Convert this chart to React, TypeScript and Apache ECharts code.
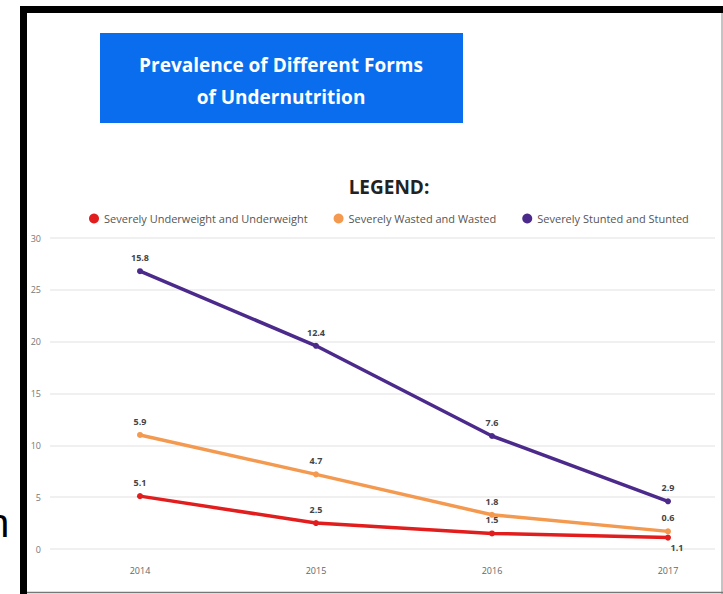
import React, { useEffect, useRef } from "react";
import * as echarts from "echarts";

const years = ["2014", "2015", "2016", "2017"];
const underweight = [5.1, 2.5, 1.5, 1.1];
const wasted = [5.9, 4.7, 1.8, 0.6];
const stunted = [15.8, 12.4, 7.6, 2.9];
const seriesNames = [
  "Severely Underweight and Underweight",
  "Severely Wasted and Wasted",
  "Severely Stunted and Stunted",
];
const colors = ["#e21d1d", "#f39a50", "#4b2a8c"];
const titleLines = ["Prevalence of Different Forms", "of Undernutrition"];

export default function App() {
  const ref = useRef<HTMLDivElement>(null);
  useEffect(() => {
    if (!ref.current) return;
    const chart = echarts.init(ref.current, undefined, { renderer: "svg" });
    const font = "'Open Sans', 'Noto Sans', sans-serif";
    const labelStyle = {
      show: true,
      position: "top",
      distance: 6,
      fontSize: 9,
      fontWeight: "bold",
      color: "#444",
      fontFamily: font,
    };
    const mkSeries = (name: string, data: number[], color: string, extra?: any) => ({
      name,
      type: "line",
      stack: "total",
      xAxisIndex: 1,
      yAxisIndex: 1,
      data: data.map((v, i) => {
        if (extra && extra[i]) return { value: v, label: extra[i] };
        return v;
      }),
      symbol: "circle",
      symbolSize: 6,
      itemStyle: { color },
      lineStyle: { color, width: 3.5 },
      label: labelStyle,
      z: 3,
    });
    chart.setOption({
      animation: false,
      backgroundColor: "#ffffff",
      textStyle: { fontFamily: font },
      legend: {
        data: seriesNames,
        icon: "circle",
        itemWidth: 10,
        itemHeight: 10,
        itemGap: 26,
        left: 84,
        top: 208,
        textStyle: { fontSize: 11, color: "#555", fontFamily: font },
      },
      grid: [
        { left: 50, right: 8, top: 238, bottom: 45 },
        { left: 140, right: 55, top: 238, bottom: 45 },
      ],
      xAxis: [
        {
          type: "category",
          gridIndex: 0,
          data: years,
          show: false,
        },
        {
          type: "category",
          gridIndex: 1,
          data: years,
          boundaryGap: false,
          axisLine: { show: false },
          axisTick: { show: false },
          axisLabel: { fontSize: 9, color: "#666", margin: 17, fontFamily: font },
        },
      ],
      yAxis: [
        {
          type: "value",
          gridIndex: 0,
          min: 0,
          max: 30,
          interval: 5,
          axisLine: { show: false },
          axisTick: { show: false },
          axisLabel: { fontSize: 9, color: "#777", margin: 9, fontFamily: font },
          splitLine: { lineStyle: { color: "#ebebeb", width: 1.5 } },
        },
        {
          type: "value",
          gridIndex: 1,
          min: 0,
          max: 30,
          interval: 5,
          show: false,
          splitLine: { show: false },
        },
      ],
      series: [
        mkSeries(seriesNames[0], underweight, colors[0], {
          3: { position: "bottom", offset: [9, -4] },
        }),
        mkSeries(seriesNames[1], wasted, colors[1]),
        mkSeries(seriesNames[2], stunted, colors[2]),
      ],
      graphic: [
        { type: "rect", shape: { x: 20, y: 6, width: 703, height: 7 }, style: { fill: "#000" } },
        { type: "rect", shape: { x: 20, y: 6, width: 7, height: 588 }, style: { fill: "#000" } },
        { type: "line", shape: { x1: 722, y1: 13, x2: 722, y2: 594 }, style: { stroke: "#888", lineWidth: 1 } },
        { type: "line", shape: { x1: 27, y1: 592.5, x2: 723, y2: 592.5 }, style: { stroke: "#777", lineWidth: 1.5 } },
        {
          type: "text",
          x: -13,
          y: 523,
          style: {
            text: "n",
            fill: "#000",
            font: "40px 'Liberation Sans', sans-serif",
            verticalAlign: "middle",
          },
        },
        { type: "rect", shape: { x: 100, y: 33, width: 363, height: 90 }, style: { fill: "#0a6ded" } },
        {
          type: "text",
          x: 281,
          y: 81,
          style: {
            text: titleLines.join("\n"),
            fill: "#ffffff",
            font: "bold 19px 'Open Sans', sans-serif",
            lineHeight: 32,
            align: "center",
            verticalAlign: "middle",
          },
        },
        {
          type: "text",
          x: 389,
          y: 187,
          style: {
            text: "LEGEND:",
            fill: "#222",
            font: "bold 19px 'Open Sans', sans-serif",
            align: "center",
            verticalAlign: "middle",
          },
        },
      ],
    });
    return () => chart.dispose();
  }, []);
  return (
    <div
      ref={ref}
      style={{ position: "fixed", left: 0, top: 0, width: 723, height: 594 }}
    />
  );
}
